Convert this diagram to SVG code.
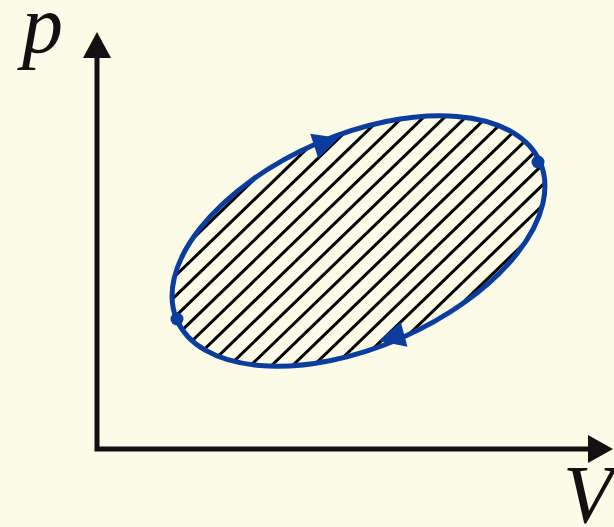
<svg xmlns="http://www.w3.org/2000/svg" width="614" height="527" viewBox="0 0 614 527">
  <style>
    .axis { stroke: #111; stroke-width: 5; fill: none; stroke-linejoin: miter; }
    .head { fill: #111; }
    .lbl { font-family: "Liberation Serif", "Times New Roman", serif; font-style: italic; font-size: 82px; fill: #111; }
    .cycle { fill: none; stroke: #0a3d9e; stroke-width: 5; }
    .hatch line { stroke: #000; stroke-width: 3; }
    .blue { fill: #0a3d9e; }
  </style>
  <defs>
    <clipPath id="inside">
      <ellipse cx="358.5" cy="241" rx="198" ry="106" transform="rotate(-23.5 358.5 241)"/>
    </clipPath>
  </defs>
  <rect width="614" height="527" fill="#fbfbe7"/>
  <g id="axes">
    <path class="axis" d="M97 56 V449 H590"/>
    <polygon class="head" points="97,32 83,58 111,58"/>
    <polygon class="head" points="613,449 588,435 588,463"/>
  </g>
  <g id="label-p"><text class="lbl" x="22" y="52">p</text></g>
  <g id="label-V"><text class="lbl" x="563" y="522">V</text></g>
  <g id="cycle">
    <g class="hatch" clip-path="url(#inside)">
      <g transform="translate(358.5 241) rotate(-44)">
        <line x1="-260" y1="-131.4" x2="260" y2="-131.4"/>
        <line x1="-260" y1="-116.8" x2="260" y2="-116.8"/>
        <line x1="-260" y1="-102.2" x2="260" y2="-102.2"/>
        <line x1="-260" y1="-87.6" x2="260" y2="-87.6"/>
        <line x1="-260" y1="-73" x2="260" y2="-73"/>
        <line x1="-260" y1="-58.4" x2="260" y2="-58.4"/>
        <line x1="-260" y1="-43.8" x2="260" y2="-43.8"/>
        <line x1="-260" y1="-29.2" x2="260" y2="-29.2"/>
        <line x1="-260" y1="-14.6" x2="260" y2="-14.6"/>
        <line x1="-260" y1="0" x2="260" y2="0"/>
        <line x1="-260" y1="14.6" x2="260" y2="14.6"/>
        <line x1="-260" y1="29.2" x2="260" y2="29.2"/>
        <line x1="-260" y1="43.8" x2="260" y2="43.8"/>
        <line x1="-260" y1="58.4" x2="260" y2="58.4"/>
        <line x1="-260" y1="73" x2="260" y2="73"/>
        <line x1="-260" y1="87.6" x2="260" y2="87.6"/>
        <line x1="-260" y1="102.2" x2="260" y2="102.2"/>
        <line x1="-260" y1="116.8" x2="260" y2="116.8"/>
        <line x1="-260" y1="131.4" x2="260" y2="131.4"/>
      </g>
    </g>
    <ellipse class="cycle" cx="358.5" cy="241" rx="198" ry="106" transform="rotate(-23.5 358.5 241)"/>
  </g>
  <g id="points">
    <circle class="blue" cx="538" cy="162" r="6.5"/>
    <circle class="blue" cx="177" cy="319" r="6.5"/>
  </g>
  <g id="connectors">
    <polygon class="blue" points="0,0 -26,-13 -26,13" transform="translate(339 138) rotate(-18)"/>
    <polygon class="blue" points="0,0 -26,-13 -26,13" transform="translate(379 341) rotate(165)"/>
  </g>
</svg>
